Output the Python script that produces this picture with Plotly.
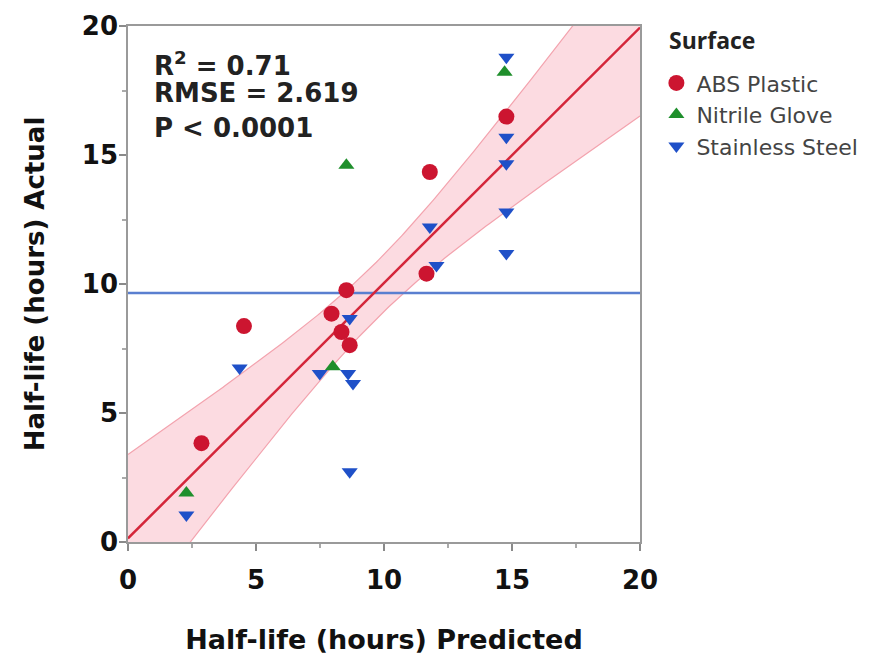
import numpy as np
import plotly.graph_objects as go

# ---- data ----
surface_names = ["ABS Plastic", "Nitrile Glove", "Stainless Steel"]
legend_title = "Surface"

abs_predicted = [2.87, 4.53, 7.95, 8.34, 8.66, 8.53, 11.66, 11.79, 14.78]
abs_actual = [3.83, 8.37, 8.85, 8.14, 7.63, 9.76, 10.40, 14.34, 16.49]

nitrile_predicted = [2.28, 8.00, 8.53, 14.71]
nitrile_actual = [1.90, 6.79, 14.60, 18.21]

steel_predicted = [2.28, 4.36, 7.49, 8.60, 8.79, 8.66, 8.66, 11.79, 12.05,
                   14.78, 14.78, 14.78, 14.78, 14.78]
steel_actual = [1.05, 6.74, 6.53, 6.53, 6.14, 8.66, 2.72, 12.21, 10.72,
                18.79, 15.69, 14.66, 12.79, 11.18]

# fit statistics shown on the chart
r_squared = "0.71"
rmse_value = "2.619"
p_value_text = "P < 0.0001"

# fitted line and its confidence band
fit_intercept = 0.14
fit_slope = 0.99
mean_actual = 9.65
band_center = 9.7
band_waist = 1.1
band_spread = 0.315

axis_range = [0, 20]
tick_values = [0, 5, 10, 15, 20]
tick_labels = ["0", "5", "10", "15", "20"]

# ---- styling ----
RED = "#cc1530"
GREEN = "#1f8f2c"
BLUE = "#1f50c8"
FONT = "DejaVu Sans"

fig = go.Figure()

# confidence band
xs = np.linspace(axis_range[0], axis_range[1], 201)
line_y = fit_intercept + fit_slope * xs
half = np.sqrt(band_waist ** 2 + (band_spread * (xs - band_center)) ** 2)
lower = line_y - half
upper = line_y + half

fig.add_trace(go.Scatter(x=xs, y=lower, mode="lines",
                         line=dict(color="#f3a3ae", width=1.2),
                         showlegend=False, hoverinfo="skip"))
fig.add_trace(go.Scatter(x=xs, y=upper, mode="lines", fill="tonexty",
                         fillcolor="rgba(250,190,200,0.55)",
                         line=dict(color="#f3a3ae", width=1.2),
                         showlegend=False, hoverinfo="skip"))

# mean of actual
fig.add_trace(go.Scatter(x=axis_range, y=[mean_actual, mean_actual], mode="lines",
                         line=dict(color="#5a7fd0", width=2.5),
                         showlegend=False, hoverinfo="skip"))

# fit line
fig.add_trace(go.Scatter(x=axis_range,
                         y=[fit_intercept + fit_slope * v for v in axis_range],
                         mode="lines", line=dict(color="#d4263a", width=2.5),
                         showlegend=False, hoverinfo="skip"))

# points
fig.add_trace(go.Scatter(x=abs_predicted, y=abs_actual, mode="markers",
                         name=surface_names[0],
                         marker=dict(symbol="circle", size=16, color=RED)))
fig.add_trace(go.Scatter(x=nitrile_predicted, y=nitrile_actual, mode="markers",
                         name=surface_names[1],
                         marker=dict(symbol="triangle-up", size=14, color=GREEN)))
fig.add_trace(go.Scatter(x=steel_predicted, y=steel_actual, mode="markers",
                         name=surface_names[2],
                         marker=dict(symbol="triangle-down", size=14, color=BLUE)))

axis_common = dict(
    range=axis_range,
    tickvals=tick_values,
    ticktext=tick_labels,
    ticks="outside",
    ticklen=7,
    tickwidth=1.5,
    tickcolor="#8a8a8a",
    showline=True,
    linecolor="#9a9a9a",
    linewidth=1.5,
    mirror=True,
    showgrid=False,
    zeroline=False,
    automargin=False,
    tickfont=dict(family=FONT, size=26, color="#111", weight="bold"),
    minor=dict(dtick=2.5, ticks="outside", ticklen=4, tickcolor="#aaaaaa"),
)

fig.update_xaxes(**axis_common,
                 title=dict(text="Half-life (hours) Predicted",
                            font=dict(family=FONT, size=27, color="#111", weight="bold"),
                            standoff=36),
                 ticklabelstandoff=7)
fig.update_yaxes(**axis_common,
                 title=dict(text="Half-life (hours) Actual",
                            font=dict(family=FONT, size=26, color="#111", weight="bold"),
                            standoff=30),
                 ticklabelstandoff=-4)

ann_font = dict(family=FONT, size=26, color="#222", weight="bold")
for text, ypos in [("R<sup>2</sup> = " + r_squared, 0.926),
                   ("RMSE = " + rmse_value, 0.870),
                   (p_value_text, 0.803)]:
    fig.add_annotation(text=text, xref="paper", yref="paper", x=0.047, y=ypos,
                       xanchor="left", yanchor="middle", showarrow=False,
                       font=ann_font)

# legend title
fig.add_annotation(text="<b>" + legend_title + "</b>", xref="paper", yref="paper",
                   x=1.052, y=0.972, xanchor="left", yanchor="middle",
                   showarrow=False,
                   font=dict(family="Open Sans", size=23, color="#222"))

fig.update_layout(
    width=874, height=661,
    margin=dict(l=128, r=233, t=26, b=119),
    plot_bgcolor="white",
    paper_bgcolor="white",
    legend=dict(
        x=1.03, y=0.93, xanchor="left", yanchor="top",
        traceorder="normal",
        font=dict(family="DejaVu Sans", size=22, color="#444"),
        bgcolor="rgba(0,0,0,0)", tracegroupgap=0,
    ),
)

fig.write_html("out.html", config={"displayModeBar": False},
               post_script="document.body.style.margin='0';")
